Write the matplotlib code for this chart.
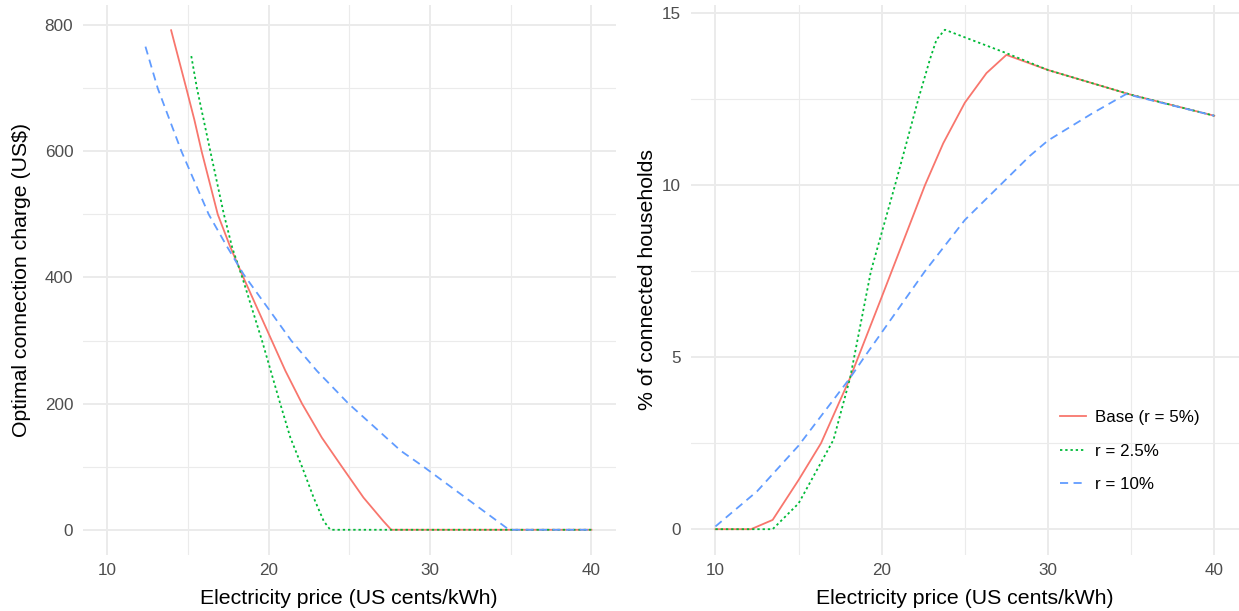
import matplotlib
matplotlib.use('Agg')
import matplotlib.pyplot as plt
from matplotlib.ticker import MultipleLocator

## values
# left panel: optimal connection charge (US$) vs electricity price
charge_base_x = [13.96, 14.9, 15.4, 15.85, 16.35, 16.85, 17.6, 18.35, 19.65, 21.04, 22.07, 23.3, 24.54, 25.88, 27.1, 27.6, 40]
charge_base_y = [792, 700, 650, 600, 550, 500, 450, 405, 331, 252, 200, 146, 100, 51, 14, 0, 0]
charge_r25_x = [15.21, 15.56, 16.39, 17.23, 17.75, 18.37, 19.59, 20.72, 21.35, 22.07, 22.79, 23.41, 23.82, 40]
charge_r25_y = [751, 700, 600, 500, 447, 400, 300, 200, 146, 100, 51, 14, 0, 0]
charge_r10_x = [12.37, 13.13, 14.6, 16.29, 17.4, 18.45, 20.0, 21.4, 22.99, 24.95, 28.2, 29.6, 34.9, 40]
charge_r10_y = [766, 700, 600, 500, 450, 405, 350, 300, 252, 200, 125, 100, 0, 0]

# right panel: % of connected households vs electricity price
conn_base_x = [10, 12.14, 13.44, 15, 16.35, 18.1, 20.0, 20.6, 22.6, 23.7, 25.0, 26.3, 27.5, 30, 35, 40]
conn_base_y = [0, 0, 0.27, 1.43, 2.5, 4.4, 6.75, 7.5, 10.0, 11.22, 12.4, 13.26, 13.79, 13.35, 12.63, 12.02]
conn_r25_x = [10, 13.44, 15, 17.1, 18.1, 19.35, 20.8, 22.2, 22.9, 23.3, 23.8, 27.5, 30, 35, 40]
conn_r25_y = [0, 0, 0.75, 2.6, 4.4, 7.5, 10.0, 12.5, 13.66, 14.24, 14.52, 13.84, 13.35, 12.63, 12.02]
conn_r10_x = [10, 12.5, 15, 18.1, 18.95, 20.0, 22.6, 25.0, 28.9, 30, 32.7, 34.7, 40]
conn_r10_y = [0.08, 1.1, 2.43, 4.4, 5.0, 5.72, 7.5, 8.99, 10.85, 11.3, 12.1, 12.65, 12.02]

labels = ["Base (r = 5%)", "r = 2.5%", "r = 10%"]
colors = ["#F8766D", "#00BA38", "#619CFF"]
dashes = [None, (1.3, 1.6), (4.5, 3.0)]

plt.rcParams['font.family'] = ['Liberation Sans', 'DejaVu Sans']

fig = plt.figure(figsize=(12.39, 6.11), dpi=100)
W, H = 1239.0, 611.0
ax1 = fig.add_axes([83 / W, 56 / H, 532.6 / W, 550 / H])
ax2 = fig.add_axes([690.5 / W, 56 / H, 548.7 / W, 550 / H])


def style(ax, ymaj, ymin):
	for s in ax.spines.values():
		s.set_visible(False)
	ax.set_xlim(8.5, 41.5)
	ax.xaxis.set_major_locator(MultipleLocator(10))
	ax.xaxis.set_minor_locator(MultipleLocator(5))
	ax.yaxis.set_major_locator(MultipleLocator(ymaj))
	ax.yaxis.set_minor_locator(MultipleLocator(ymin))
	ax.grid(True, which='major', color='#EBEBEB', linewidth=1.4)
	ax.grid(True, which='minor', color='#EBEBEB', linewidth=0.8)
	ax.set_axisbelow(True)
	ax.tick_params(which='both', length=0)
	ax.tick_params(axis='x', labelsize=12.3, labelcolor='#4D4D4D', pad=6)
	ax.tick_params(axis='y', labelsize=12.3, labelcolor='#4D4D4D', pad=7)
	ax.set_xlabel("Electricity price (US cents/kWh)", fontsize=15.3)
	ax.xaxis.set_label_coords(0.5, -0.062)


def draw(ax, series):
	for (x, y), lab, c, d in zip(series, labels, colors, dashes):
		line, = ax.plot(x, y, color=c, linewidth=1.3, label=lab)
		if d is not None:
			line.set_dashes(d)


style(ax1, 200, 100)
ax1.set_ylim(-40, 832)
ax1.set_ylabel("Optimal connection charge (US\\$)", fontsize=15.3)
ax1.yaxis.set_label_coords(-0.098, 0.5)
draw(ax1, [(charge_base_x, charge_base_y), (charge_r25_x, charge_r25_y), (charge_r10_x, charge_r10_y)])

style(ax2, 5, 2.5)
ax2.set_ylim(-0.75, 15.24)
ax2.set_ylabel("% of connected households", fontsize=15.3)
ax2.yaxis.set_label_coords(-0.061, 0.5)
draw(ax2, [(conn_base_x, conn_base_y), (conn_r25_x, conn_r25_y), (conn_r10_x, conn_r10_y)])

ax2.legend(loc='upper left', bbox_to_anchor=(1060 / W, 1 - 410 / H), bbox_transform=fig.transFigure,
	frameon=False, fontsize=12.2, handlelength=1.55, handletextpad=0.5, labelspacing=1.1,
	borderpad=0, borderaxespad=0)

plt.savefig("out.png", dpi=100)
